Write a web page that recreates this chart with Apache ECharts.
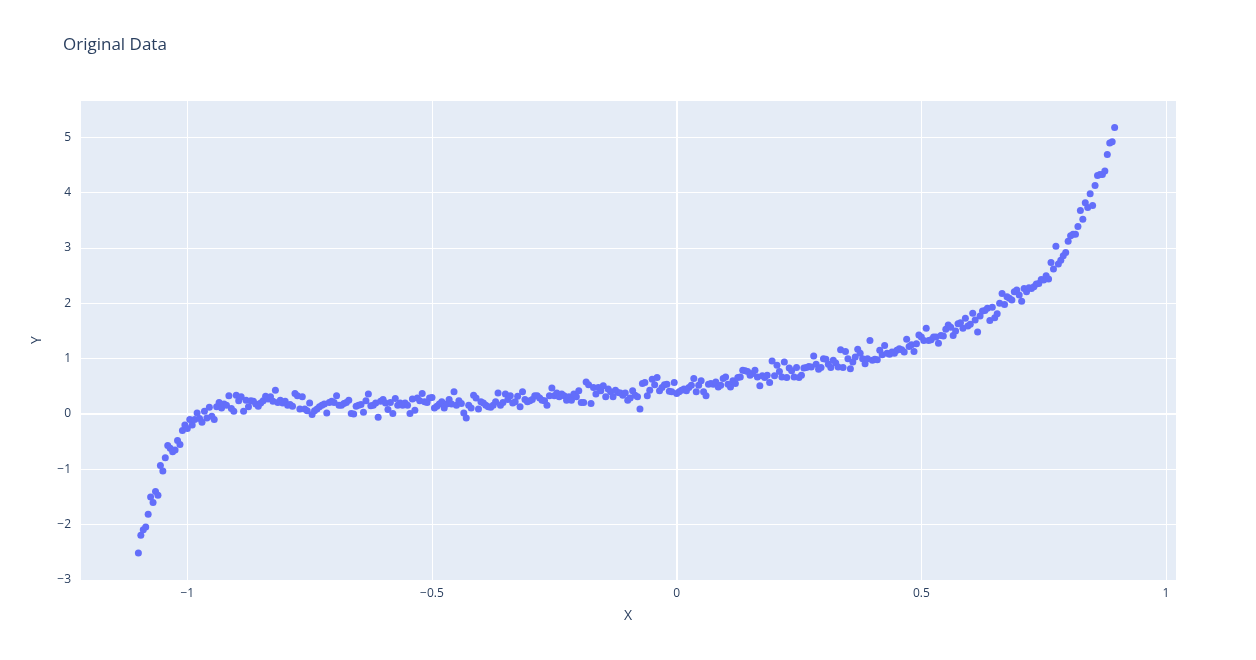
<!DOCTYPE html>
<html>
<head>
<meta charset="utf-8">
<title>Original Data</title>
<script src="https://cdn.jsdelivr.net/npm/echarts@6/dist/echarts.min.js"></script>
<style>
	html, body { margin: 0; padding: 0; background: #fff; }
	#chart { width: 1256px; height: 660px; }
</style>
</head>
<body>
<div id="chart"></div>
<script>
// values
var titleText = 'Original Data';
var xName = 'X';
var yName = 'Y';

var xValues = [
	-1.100,-1.095,-1.090,-1.085,-1.080,-1.075,-1.070,-1.065,-1.060,-1.055,-1.050,-1.045,-1.040,-1.035,-1.030,-1.025,-1.020,-1.015,-1.010,-1.005,
	-1.000,-0.995,-0.990,-0.985,-0.980,-0.975,-0.970,-0.965,-0.960,-0.955,-0.950,-0.945,-0.940,-0.935,-0.930,-0.925,-0.920,-0.915,-0.910,-0.905,
	-0.900,-0.895,-0.890,-0.885,-0.880,-0.875,-0.870,-0.865,-0.860,-0.855,-0.850,-0.845,-0.840,-0.835,-0.830,-0.825,-0.820,-0.815,-0.810,-0.805,
	-0.800,-0.795,-0.790,-0.785,-0.780,-0.775,-0.770,-0.765,-0.760,-0.755,-0.750,-0.745,-0.740,-0.735,-0.730,-0.725,-0.720,-0.715,-0.710,-0.705,
	-0.700,-0.695,-0.690,-0.685,-0.680,-0.675,-0.670,-0.665,-0.660,-0.655,-0.650,-0.645,-0.640,-0.635,-0.630,-0.625,-0.620,-0.615,-0.610,-0.605,
	-0.600,-0.595,-0.590,-0.585,-0.580,-0.575,-0.570,-0.565,-0.560,-0.555,-0.550,-0.545,-0.540,-0.535,-0.530,-0.525,-0.520,-0.515,-0.510,-0.505,
	-0.500,-0.495,-0.490,-0.485,-0.480,-0.475,-0.470,-0.465,-0.460,-0.455,-0.450,-0.445,-0.440,-0.435,-0.430,-0.425,-0.420,-0.415,-0.410,-0.405,
	-0.400,-0.395,-0.390,-0.385,-0.380,-0.375,-0.370,-0.365,-0.360,-0.355,-0.350,-0.345,-0.340,-0.335,-0.330,-0.325,-0.320,-0.315,-0.310,-0.305,
	-0.300,-0.295,-0.290,-0.285,-0.280,-0.275,-0.270,-0.265,-0.260,-0.255,-0.250,-0.245,-0.240,-0.235,-0.230,-0.225,-0.220,-0.215,-0.210,-0.205,
	-0.200,-0.195,-0.190,-0.185,-0.180,-0.175,-0.170,-0.165,-0.160,-0.155,-0.150,-0.145,-0.140,-0.135,-0.130,-0.125,-0.120,-0.115,-0.110,-0.105,
	-0.100,-0.095,-0.090,-0.085,-0.080,-0.075,-0.070,-0.065,-0.060,-0.055,-0.050,-0.045,-0.040,-0.035,-0.030,-0.025,-0.020,-0.015,-0.010,-0.005,
	0.000,0.005,0.010,0.015,0.020,0.025,0.030,0.035,0.040,0.045,0.050,0.055,0.060,0.065,0.070,0.075,0.080,0.085,0.090,0.095,
	0.100,0.105,0.110,0.115,0.120,0.125,0.130,0.135,0.140,0.145,0.150,0.155,0.160,0.165,0.170,0.175,0.180,0.185,0.190,0.195,
	0.200,0.205,0.210,0.215,0.220,0.225,0.230,0.235,0.240,0.245,0.250,0.255,0.260,0.265,0.270,0.275,0.280,0.285,0.290,0.295,
	0.300,0.305,0.310,0.315,0.320,0.325,0.330,0.335,0.340,0.345,0.350,0.355,0.360,0.365,0.370,0.375,0.380,0.385,0.390,0.395,
	0.400,0.405,0.410,0.415,0.420,0.425,0.430,0.435,0.440,0.445,0.450,0.455,0.460,0.465,0.470,0.475,0.480,0.485,0.490,0.495,
	0.500,0.505,0.510,0.515,0.520,0.525,0.530,0.535,0.540,0.545,0.550,0.555,0.560,0.565,0.570,0.575,0.580,0.585,0.590,0.595,
	0.600,0.605,0.610,0.615,0.620,0.625,0.630,0.635,0.640,0.645,0.650,0.655,0.660,0.665,0.670,0.675,0.680,0.685,0.690,0.695,
	0.700,0.705,0.710,0.715,0.720,0.725,0.730,0.735,0.740,0.745,0.750,0.755,0.760,0.765,0.770,0.775,0.780,0.785,0.790,0.795,
	0.800,0.805,0.810,0.815,0.820,0.825,0.830,0.835,0.840,0.845,0.850,0.855,0.860,0.865,0.870,0.875,0.880,0.885,0.890,0.895
];

var yValues = [
	-2.51,-2.19,-2.09,-2.04,-1.81,-1.50,-1.60,-1.40,-1.47,-0.93,-1.03,-0.79,-0.57,-0.62,-0.68,-0.65,-0.48,-0.55,-0.30,-0.20,
	-0.26,-0.10,-0.20,-0.10,0.02,-0.08,-0.15,0.05,-0.07,0.12,-0.04,-0.10,0.13,0.21,0.11,0.18,0.16,0.33,0.10,0.05,
	0.34,0.24,0.31,0.05,0.25,0.13,0.24,0.23,0.18,0.14,0.20,0.24,0.32,0.27,
	0.31,0.23,0.43,0.21,0.25,0.20,0.23,0.16,0.17,0.14,0.37,0.33,0.09,0.31,0.09,0.06,0.20,-0.01,0.06,0.09,
	0.13,0.16,0.18,0.02,0.21,0.23,0.21,0.33,0.16,0.16,0.19,0.21,0.25,0.01,0.00,0.14,0.16,0.17,0.03,0.24,
	0.36,0.15,0.16,0.20,-0.06,0.23,0.26,0.20,0.08,0.21,0.01,
	0.28,0.16,0.20,0.16,0.20,0.16,0.01,0.27,0.07,0.29,0.24,0.37,0.22,0.21,0.29,0.30,0.11,0.14,0.18,0.22,
	0.11,0.18,0.26,0.18,0.40,0.16,0.24,0.19,0.02,-0.07,0.16,0.11,0.34,0.29,0.09,0.22,0.20,0.16,0.13,0.12,
	0.16,0.22,0.38,0.16,0.21,0.36,0.26,0.33,0.20,0.22,0.32,0.13,0.40,0.26,0.22,0.24,0.26,0.33,
	0.33,0.29,0.25,0.24,0.16,0.33,0.47,0.33,0.38,0.31,0.36,0.33,0.25,0.31,0.25,0.36,0.31,0.42,0.21,0.21,
	0.58,0.53,0.19,0.48,0.36,0.48,0.42,0.51,0.31,0.45,0.40,0.31,0.43,0.39,0.38,0.34,0.38,0.25,0.29,0.42,
	0.34,0.31,0.09,0.55,0.57,0.33,0.43,0.63,0.53,0.66,0.42,0.48,0.53,0.54,0.41,
	0.40,0.57,0.37,0.40,0.43,0.45,0.42,0.48,0.52,0.64,0.40,0.52,0.60,0.40,0.33,0.54,0.55,0.54,0.58,0.49,
	0.52,0.64,0.67,0.54,0.49,0.60,0.55,0.66,0.67,0.79,0.78,0.77,0.70,0.73,0.79,0.67,0.51,0.69,0.66,0.70,
	0.57,0.96,0.69,0.88,0.77,0.67,0.94,0.66,0.83,0.78,0.67,0.84,0.66,0.70,0.83,0.84,
	0.86,0.85,1.05,0.90,0.81,0.84,1.00,0.99,0.90,0.84,0.97,0.92,0.85,1.16,0.84,1.13,1.00,0.82,0.94,1.03,
	1.17,1.10,1.00,0.91,1.00,1.33,0.97,0.99,0.98,1.15,1.07,1.24,1.10,1.08,1.12,1.10,1.15,1.18,1.16,1.12,
	1.35,1.22,1.25,1.13,1.27,1.43,1.39,1.33,1.55,1.33,1.34,1.39,1.39,1.28,1.42,
	1.41,1.53,1.61,1.57,1.42,1.50,1.63,1.65,1.55,1.73,1.59,1.62,1.82,1.70,1.48,1.77,1.86,1.87,1.91,1.69,
	1.93,1.74,1.81,2.00,2.18,1.98,2.12,2.09,2.06,2.21,2.24,2.15,2.04,2.27,2.21,2.28,2.27,2.30,2.35,2.36,
	2.43,2.42,2.50,2.44,2.74,2.62,3.03,2.71,2.78,2.86,2.92,3.12,3.22,
	3.25,3.25,3.39,3.68,3.52,3.82,3.73,3.98,3.77,4.13,4.31,4.33,4.33,4.39,4.69,4.90,4.92,5.18
];

var xRange = [-1.2193, 1.0204];
var yRange = [-3, 5.675];

var points = [];
for (var i = 0; i < xValues.length && i < yValues.length; i++) {
	points.push([xValues[i], yValues[i]]);
}

function minusSign(v){
	return String(v).replace('-', '\u2212');
}

var fontFamily = '"Open Sans", verdana, arial, sans-serif';
var textColor = '#2a3f5f';

var chart = echarts.init(document.getElementById('chart'));
var option = {
	animation: false,
	title: {
		text: titleText,
		left: 58,
		top: 32,
		textStyle: {
			fontFamily: fontFamily,
			fontSize: 17,
			fontWeight: 'normal',
			color: textColor
		}
	},
	grid: {
		left: 80,
		right: 80,
		top: 100,
		bottom: 80,
		show: true,
		backgroundColor: '#E5ECF6',
		borderWidth: 0
	},
	xAxis: {
		type: 'value',
		min: xRange[0],
		max: xRange[1],
		minInterval: 0.5,
		maxInterval: 0.5,
		name: xName,
		nameLocation: 'middle',
		nameGap: 29,
		nameTextStyle: { fontFamily: fontFamily, fontSize: 14, color: textColor },
		axisLine: { show: false },
		axisTick: { show: false },
		splitLine: { show: true, lineStyle: { color: '#fff', width: 1 } },
		axisLabel: {
			showMinLabel: false,
			showMaxLabel: false,
			margin: 8,
			fontFamily: fontFamily,
			fontSize: 12,
			color: textColor,
			formatter: minusSign
		}
	},
	yAxis: {
		type: 'value',
		min: yRange[0],
		max: yRange[1],
		minInterval: 1,
		maxInterval: 1,
		name: yName,
		nameLocation: 'middle',
		nameGap: 36,
		nameTextStyle: { fontFamily: fontFamily, fontSize: 14, color: textColor },
		axisLine: { show: false },
		axisTick: { show: false },
		splitLine: { show: true, lineStyle: { color: '#fff', width: 1 } },
		axisLabel: {
			showMaxLabel: false,
			margin: 9,
			fontFamily: fontFamily,
			fontSize: 12,
			color: textColor,
			formatter: minusSign
		}
	},
	series: [
		{
			type: 'scatter',
			data: points,
			symbolSize: 7,
			itemStyle: { color: '#636EFA', opacity: 1 },
			markLine: {
				silent: true,
				z: 1,
				symbol: ['none', 'none'],
				label: { show: false },
				lineStyle: { color: '#fff', width: 2, type: 'solid' },
				data: [{ xAxis: 0 }, { yAxis: 0 }]
			}
		}
	]
};
chart.setOption(option);
</script>
</body>
</html>
